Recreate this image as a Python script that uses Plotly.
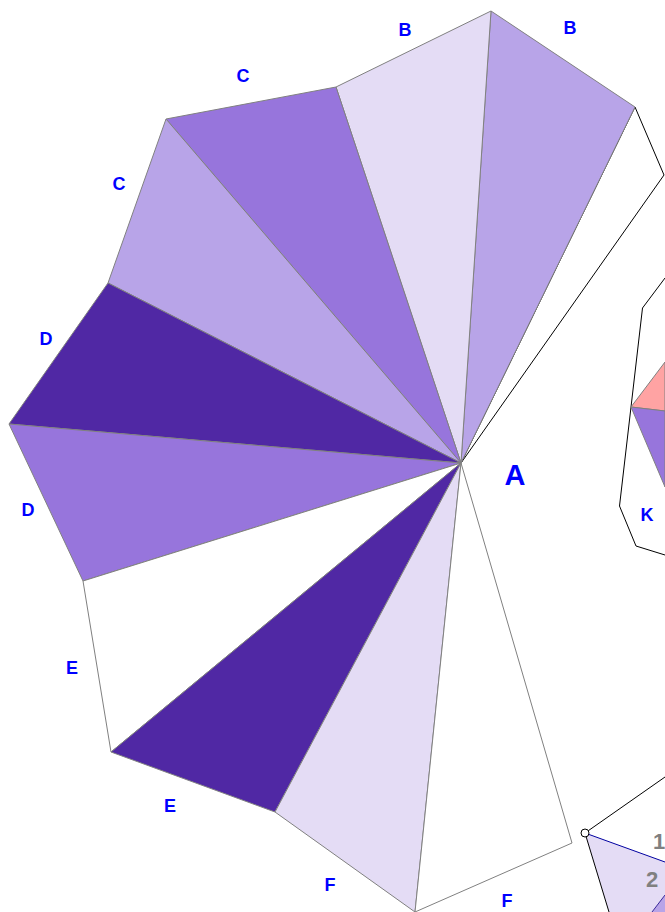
import plotly.graph_objects as go

W, H = 665, 912
hub = (461, 463)
rim = [(664, 175), (635, 107), (491, 11), (336, 87), (166, 119), (108, 283),
       (9, 424), (83, 581), (111, 752), (275, 812), (415, 912), (572, 843)]
WHITE, LIGHT, MID, STRONG, DARK, PINK = "#ffffff", "#e4dcf5", "#b8a4e8", "#9775dc", "#5028a4", "#ffa3a3"
wedge_fills = [WHITE, MID, LIGHT, STRONG, MID, DARK, STRONG, WHITE, DARK, LIGHT, WHITE]
wedge_edges = ["#000000"] + ["#808080"] * 10

right_outline = [(665, 278), (642.5, 308), (631, 407), (619.5, 506), (636, 546), (665, 555)]
pink_wedge = [(631, 407), (665, 362), (665, 411)]
purple_wedge = [(631, 407), (665, 411), (665, 487)]

bottom_fill = [(585, 833), (665, 862), (665, 912), (609, 912)]
bottom_mid = [(652, 912), (665, 895), (665, 912)]
bottom_black_a = [(585, 833), (665, 777)]
bottom_black_b = [(585, 833), (609, 912)]
bottom_blue = [(585, 833), (665, 862)]
bottom_dark = [(652, 912), (665, 895)]
marker_pt = (585, 833)

small_labels = ["B", "B", "C", "C", "D", "D", "E", "E", "F", "F", "K"]
small_pos = [(405, 31.5), (570, 29.5), (243, 77.5), (119, 185.5), (46, 340.5), (28, 511.5),
             (72, 669.5), (170, 807.5), (330, 886.5), (507, 902.5), (647, 516.5)]
big_label, big_pos = "A", (515, 478)
gray_labels = ["1", "2"]
gray_pos = [(659, 843), (652, 881)]

fig = go.Figure()

def poly(pts, fill=None, edge="#808080", width=1, close=True):
    p = list(pts) + ([pts[0]] if close else [])
    fig.add_trace(go.Scatter(x=[a for a, _ in p], y=[b for _, b in p], mode="lines",
                             line=dict(color=edge, width=width),
                             fill="toself" if fill else None, fillcolor=fill,
                             hoverinfo="skip", showlegend=False))

def text(labels, pos, size, color):
    fig.add_trace(go.Scatter(x=[a for a, _ in pos], y=[b for _, b in pos], mode="text", text=labels,
                             textposition="middle center",
                             textfont=dict(family="Liberation Sans", size=size, color=color,
                                           weight="bold"),
                             cliponaxis=False, hoverinfo="skip", showlegend=False))

for i, f in enumerate(wedge_fills):
    poly([hub, rim[i], rim[i + 1]], f, wedge_edges[i])
poly(right_outline, None, "#000000", 1, close=False)
poly(pink_wedge, PINK)
poly(purple_wedge, STRONG)
poly(bottom_fill, LIGHT, "rgba(0,0,0,0)", 0)
poly(bottom_mid, MID, "rgba(0,0,0,0)", 0)
poly(bottom_dark, None, "#3a2a9a", 1, close=False)
poly(bottom_black_a, None, "#000000", 1, close=False)
poly(bottom_black_b, None, "#000000", 1, close=False)
poly(bottom_blue, None, "#0000a0", 1, close=False)
fig.add_trace(go.Scatter(x=[marker_pt[0]], y=[marker_pt[1]], mode="markers",
                         marker=dict(size=8, color="#ffffff", line=dict(color="#000000", width=1)),
                         hoverinfo="skip", showlegend=False))
text(small_labels, small_pos, 18, "#0000ff")
text([big_label], [big_pos], 29, "#0000ff")
text(gray_labels, gray_pos, 22, "#808080")

fig.update_layout(width=W, height=H, margin=dict(l=0, r=0, t=0, b=0), autosize=False,
                  paper_bgcolor="#ffffff", plot_bgcolor="#ffffff",
                  xaxis=dict(range=[0, W], visible=False, fixedrange=True),
                  yaxis=dict(range=[H, 0], visible=False, fixedrange=True))
fig.write_html("out.html", config=dict(displayModeBar=False),
               post_script="document.body.style.margin='0';document.body.style.overflow='hidden';window.dispatchEvent(new Event('resize'));")
